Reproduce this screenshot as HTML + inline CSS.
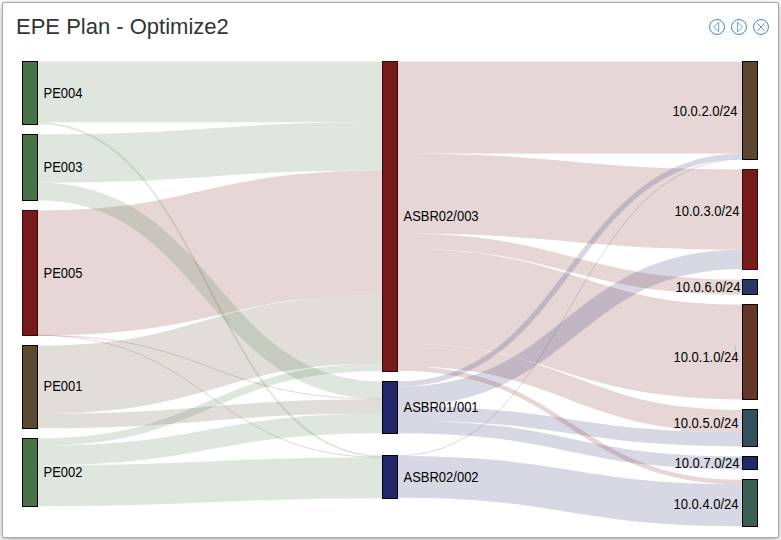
<!DOCTYPE html>
<html><head><meta charset="utf-8"><style>
html,body{margin:0;padding:0;background:#fff;width:781px;height:540px;overflow:hidden}
body{font-family:"Liberation Sans",sans-serif;position:relative}
.panel{position:absolute;left:2px;top:2px;width:775px;height:534px;border:1px solid #a8a8a8;border-radius:2px;box-shadow:0 3px 10px rgba(0,0,0,.3),0 0 1px rgba(0,0,0,.2);background:#fff}
.title{position:absolute;left:16px;top:15px;font-size:22px;color:#333;line-height:24px;white-space:nowrap}
svg{position:absolute;left:0;top:0}
.links path{fill:none;stroke-opacity:.18}
.labels text{font-size:13px;fill:#000}
</style></head><body>
<div class="panel"></div>
<div class="title">EPE Plan - Optimize2</div>
<svg width="781" height="540" viewBox="0 0 781 540">
<g class="icons" fill="none">
<circle cx="717" cy="27" r="7.45" stroke="#3f86c7" stroke-width="1"/>
<path d="M713.6,27L718.7,22.2V31.8Z" stroke="#6fa3d8" stroke-width="1" stroke-linejoin="round"/>
<circle cx="739" cy="27" r="7.45" stroke="#3f86c7" stroke-width="1"/>
<path d="M742.6,27L737.5,22.2V31.8Z" stroke="#6fa3d8" stroke-width="1" stroke-linejoin="round"/>
<circle cx="761" cy="27" r="7.45" stroke="#3f86c7" stroke-width="1"/>
<path d="M757.4,23.3L764.7,30.7M764.7,23.3L757.4,30.7" stroke="#5b95d3" stroke-width="1"/>
</g>
<g class="links">
<path d="M37.5,272.90C210.0,272.90 210.0,232.80 382.5,232.80" stroke="#761b1c" stroke-width="124.80"/>
<path d="M397.5,296.00C570.0,296.00 570.0,352.00 742.5,352.00" stroke="#761b1c" stroke-width="95.00"/>
<path d="M397.5,107.50C570.0,107.50 570.0,107.50 742.5,107.50" stroke="#761b1c" stroke-width="92.00"/>
<path d="M397.5,193.50C570.0,193.50 570.0,209.50 742.5,209.50" stroke="#761b1c" stroke-width="80.00"/>
<path d="M37.5,379.65C210.0,379.65 210.0,329.35 382.5,329.35" stroke="#5a4a32" stroke-width="68.30"/>
<path d="M37.5,91.90C210.0,91.90 210.0,91.90 382.5,91.90" stroke="#487347" stroke-width="60.80"/>
<path d="M37.5,158.55C210.0,158.55 210.0,146.35 382.5,146.35" stroke="#487347" stroke-width="48.10"/>
<path d="M397.5,476.90C570.0,476.90 570.0,505.30 742.5,505.30" stroke="#22276b" stroke-width="41.80"/>
<path d="M37.5,485.85C210.0,485.85 210.0,477.80 382.5,477.80" stroke="#487347" stroke-width="40.90"/>
<path d="M397.5,354.80C570.0,354.80 570.0,421.00 742.5,421.00" stroke="#761b1c" stroke-width="22.60"/>
<path d="M37.5,455.60C210.0,455.60 210.0,423.35 382.5,423.35" stroke="#487347" stroke-width="19.60"/>
<path d="M397.5,396.55C570.0,396.55 570.0,259.25 742.5,259.25" stroke="#22276b" stroke-width="19.50"/>
<path d="M37.5,191.40C210.0,191.40 210.0,390.30 382.5,390.30" stroke="#487347" stroke-width="17.60"/>
<path d="M397.5,241.00C570.0,241.00 570.0,287.00 742.5,287.00" stroke="#761b1c" stroke-width="15.00"/>
<path d="M37.5,421.00C210.0,421.00 210.0,406.35 382.5,406.35" stroke="#5a4a32" stroke-width="14.40"/>
<path d="M397.5,413.35C570.0,413.35 570.0,439.35 742.5,439.35" stroke="#22276b" stroke-width="14.10"/>
<path d="M397.5,426.80C570.0,426.80 570.0,463.00 742.5,463.00" stroke="#22276b" stroke-width="12.80"/>
<path d="M37.5,442.05C210.0,442.05 210.0,367.25 382.5,367.25" stroke="#487347" stroke-width="7.50"/>
<path d="M397.5,384.15C570.0,384.15 570.0,156.15 742.5,156.15" stroke="#22276b" stroke-width="5.30"/>
<path d="M397.5,368.40C570.0,368.40 570.0,482.10 742.5,482.10" stroke="#761b1c" stroke-width="4.60"/>
<path d="M37.5,123.20C210.0,123.20 210.0,456.40 382.5,456.40" stroke="#487347" stroke-width="1.80"/>
<path d="M397.5,455.75C570.0,455.75 570.0,159.05 742.5,159.05" stroke="#22276b" stroke-width="1.00"/>
<path d="M37.5,335.32C210.0,335.32 210.0,399.12 382.5,399.12" stroke="#761b1c" stroke-width="1.00"/>
<path d="M37.5,335.38C210.0,335.38 210.0,457.32 382.5,457.32" stroke="#761b1c" stroke-width="1.00"/>
</g>
<g class="artifacts">
<rect x="681" y="426" width="60.5" height="5.6" fill="#e6d6d6"/>
<rect x="735" y="346" width="1" height="6" fill="#8fd3d6"/>
</g>
<g class="nodes" shape-rendering="crispEdges">
<rect x="22.5" y="61.5" width="15" height="62.6" fill="#487347" stroke="#000"/>
<rect x="22.5" y="134.5" width="15" height="65.7" fill="#487347" stroke="#000"/>
<rect x="22.5" y="210.5" width="15" height="124.9" fill="#761b1c" stroke="#3a0505"/>
<rect x="22.5" y="345.5" width="15" height="82.7" fill="#5a4a32" stroke="#000"/>
<rect x="22.5" y="438.3" width="15" height="68.0" fill="#487347" stroke="#000"/>
<rect x="382.5" y="61.5" width="15" height="309.5" fill="#761b1c" stroke="#3a0505"/>
<rect x="382.5" y="381.5" width="15" height="51.65" fill="#22276b" stroke="#000"/>
<rect x="382.5" y="455.5" width="15" height="42.75" fill="#22276b" stroke="#000"/>
<rect x="742.5" y="61.5" width="15" height="97.8" fill="#5e4530" stroke="#000"/>
<rect x="742.5" y="169.5" width="15" height="99.5" fill="#761b1c" stroke="#3a0505"/>
<rect x="742.5" y="279.5" width="15" height="15.0" fill="#293867" stroke="#000"/>
<rect x="742.5" y="304.5" width="15" height="95.0" fill="#663628" stroke="#000"/>
<rect x="742.5" y="409.7" width="15" height="36.7" fill="#33505c" stroke="#000"/>
<rect x="742.5" y="456.6" width="15" height="12.8" fill="#22276b" stroke="#000"/>
<rect x="742.5" y="479.8" width="15" height="46.4" fill="#3b5f53" stroke="#000"/>
</g>
<g class="labels">
<text transform="translate(43.5,98) scale(1,1.08)">PE004</text>
<text transform="translate(43.5,172) scale(1,1.08)">PE003</text>
<text transform="translate(43.5,278) scale(1,1.08)">PE005</text>
<text transform="translate(43.5,391) scale(1,1.08)">PE001</text>
<text transform="translate(43.5,477) scale(1,1.08)">PE002</text>
<text transform="translate(403.5,221) scale(1,1.08)">ASBR02/003</text>
<text transform="translate(403.5,412) scale(1,1.08)">ASBR01/001</text>
<text transform="translate(403.5,482) scale(1,1.08)">ASBR02/002</text>
<text transform="translate(737.5,116) scale(1,1.08)" text-anchor="end">10.0.2.0/24</text>
<text transform="translate(739.5,216) scale(1,1.08)" text-anchor="end">10.0.3.0/24</text>
<text transform="translate(740.5,292) scale(1,1.08)" text-anchor="end">10.0.6.0/24</text>
<text transform="translate(738.5,362) scale(1,1.08)" text-anchor="end">10.0.1.0/24</text>
<text transform="translate(738.5,428) scale(1,1.08)" text-anchor="end">10.0.5.0/24</text>
<text transform="translate(739.5,468) scale(1,1.08)" text-anchor="end">10.0.7.0/24</text>
<text transform="translate(738.5,509) scale(1,1.08)" text-anchor="end">10.0.4.0/24</text>
</g>
</svg>
</body></html>
